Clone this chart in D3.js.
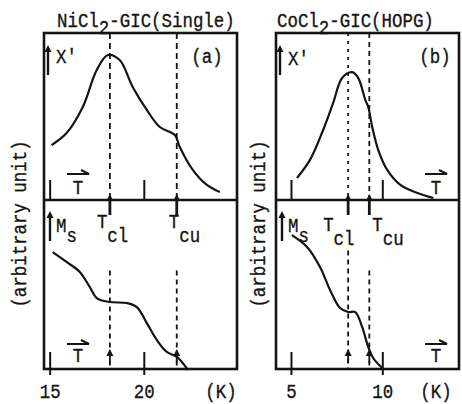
<!DOCTYPE html>
<html>
<head>
<meta charset="utf-8">
<script src="https://cdn.jsdelivr.net/npm/d3@7"></script>
<style>
  body { margin: 0; background: #fff; }
  svg text { font-family: "Liberation Mono", "Courier New", monospace; font-size: 21px; fill: #141414; stroke: #141414; stroke-width: 0.35px; }
</style>
</head>
<body>
<svg id="chart" width="462" height="404"></svg>
<script>
// NiCl2-GIC (single crystal): chi' and Ms against temperature (K)
const niChiTemp = [15.1, 15.9, 16.76, 17.5, 18.09, 18.72, 19.41, 20.16, 20.85, 21.65, 21.91, 22.6, 23.35, 24.04];
const niChi = [3.29, 4.01, 5.57, 7.78, 8.68, 8.38, 6.77, 5.39, 4.37, 3.89, 3.17, 1.80, 0.90, 0.48];
const niMsTemp = [15.16, 15.9, 16.6, 17.13, 17.5, 18.19, 19.1, 19.63, 20.16, 20.69, 21.22, 21.76, 22.34];
const niMs = [7.0, 6.41, 5.81, 4.91, 4.25, 4.01, 3.95, 3.71, 2.75, 1.74, 1.02, 0.72, -0.06];

// CoCl2-GIC (HOPG)
const coChiTemp = [5.33, 6.04, 6.76, 7.31, 7.80, 8.35, 8.68, 9.07, 9.23, 9.45, 9.78, 10.27, 10.99, 11.92, 12.8];
const coChi = [1.32, 2.40, 4.19, 5.81, 7.31, 7.66, 7.31, 5.99, 5.57, 4.37, 2.99, 1.80, 0.90, 0.42, 0.12];
const coMsTemp = [5.05, 5.88, 6.59, 7.14, 7.69, 8.13, 8.52, 8.9, 9.23, 9.5, 10.0];
const coMs = [8.02, 7.31, 6.11, 4.73, 3.65, 3.41, 3.41, 2.51, 1.32, 0.66, 0.06];

// transition temperatures Tcl, Tcu
const niTc = [18.2, 21.75];
const coTc = [8.13, 9.29];

// tick labels
const niTicks = [15, 20];
const coTicks = [5, 10];

const svg = d3.select("#chart");
const ink = "#141414";
const top0 = 33, mid = 200, bottom = 369;
const sx = 0.83; // narrow typewriter glyphs

const yTop = d3.scaleLinear().domain([0, 10]).range([mid, top0]);
const yBot = d3.scaleLinear().domain([0, 10]).range([bottom, mid + 2]);

function text(g, x, y, str, anchor) {
  return g.append("text")
    .attr("transform", `translate(${x},${y}) scale(${sx},1)`)
    .attr("text-anchor", anchor || "start")
    .text(str);
}

// text with a lowered subscript
function subText(g, x, y, main, sub, drop) {
  const t = g.append("text").attr("transform", `translate(${x},${y}) scale(${sx},1)`);
  t.append("tspan").text(main);
  t.append("tspan").attr("dy", drop).text(sub);
  return t;
}

function upArrow(g, x, y1, y2, w) {
  g.append("line").attr("x1", x).attr("x2", x).attr("y1", y1).attr("y2", y2 + 5)
    .attr("stroke", ink).attr("stroke-width", w || 2.4);
  g.append("path")
    .attr("d", `M${x - 3.5},${y2 + 7} L${x},${y2} L${x + 3.5},${y2 + 7} Z`)
    .attr("fill", ink);
}

function harpoon(g, x1, x2, y) {
  g.append("path")
    .attr("d", `M${x1},${y} L${x2},${y} L${x2 - 8},${y - 4}`)
    .attr("fill", "none").attr("stroke", ink).attr("stroke-width", 2);
}

function panel(opt) {
  const x = d3.scaleLinear().domain(opt.domain).range([opt.left, opt.right]);
  const g = svg.append("g");

  // title
  subText(g, opt.titleX, 27, opt.title[0], "2", 7)
    .append("tspan").attr("dy", -7).text(opt.title[1]);

  // frame and divider
  g.append("rect")
    .attr("x", opt.left).attr("y", top0)
    .attr("width", opt.right - opt.left).attr("height", bottom - top0)
    .attr("fill", "none").attr("stroke", ink).attr("stroke-width", 2.6);
  g.append("line")
    .attr("x1", opt.left).attr("x2", opt.right).attr("y1", mid).attr("y2", mid)
    .attr("stroke", ink).attr("stroke-width", 2.6);

  // ticks in upper panel
  const axT = g.append("g").attr("transform", `translate(0,${mid})`)
    .call(d3.axisBottom(x).tickValues(opt.ticks).tickSize(-20).tickFormat(""));
  axT.select(".domain").remove();
  axT.selectAll(".tick line").attr("stroke", ink).attr("stroke-width", 2);

  // bottom axis with labels
  const axB = g.append("g").attr("transform", `translate(0,${bottom})`)
    .call(d3.axisBottom(x).tickValues(opt.ticks).tickSize(6).tickFormat(d3.format("d")));
  axB.select(".domain").remove();
  axB.selectAll(".tick line").attr("y1", -17).attr("stroke", ink).attr("stroke-width", 2);
  axB.selectAll(".tick text")
    .attr("y", 29).attr("dy", null)
    .attr("transform", `scale(${sx},1)`);
  text(g, opt.kX, 398, "(K)", "middle");

  // y label
  g.append("text")
    .attr("transform", `translate(${opt.yLabX},224) rotate(-90) scale(${sx},1)`)
    .attr("text-anchor", "middle")
    .text("(arbitrary unit)");

  // dashed transition lines
  opt.tc.forEach((t, i) => {
    g.append("line")
      .attr("x1", x(t)).attr("x2", x(t)).attr("y1", yTop(10)).attr("y2", yTop(0))
      .attr("stroke", ink).attr("stroke-width", 1.8).attr("stroke-dasharray", opt.dash[i]);
    g.append("line")
      .attr("x1", x(t)).attr("x2", x(t)).attr("y1", yBot(opt.lowDash[i])).attr("y2", yBot(0))
      .attr("stroke", ink).attr("stroke-width", 1.8).attr("stroke-dasharray", "5,4");
    upArrow(g, x(t), mid + 15, mid - 6, 2.8);
    upArrow(g, x(t), bottom - 6, bottom - 20, 1.8);
  });

  // curves
  const line = y => d3.line()
    .x((d, i) => x(d[0]))
    .y(d => y(d[1]))
    .curve(d3.curveCatmullRom.alpha(0.5));
  g.append("path")
    .datum(d3.zip(opt.chiT, opt.chi))
    .attr("d", line(yTop))
    .attr("fill", "none").attr("stroke", ink).attr("stroke-width", 2.2);
  g.append("path")
    .datum(d3.zip(opt.msT, opt.ms))
    .attr("d", line(yBot))
    .attr("fill", "none").attr("stroke", ink).attr("stroke-width", 2.2);

  // annotations
  upArrow(g, opt.left + 4, 75, 45, 2.4);
  text(g, opt.left + 12, opt.xpY, "X'");
  text(g, opt.tagX, 63, opt.tag, "middle");

  upArrow(g, opt.left + 6, 241, 211, 2.4);
  subText(g, opt.left + 12, 232, "M", "s", 10);
  subText(g, x(opt.tc[0]) - opt.tclOff, opt.tY, "T", "cl", 14);
  subText(g, x(opt.tc[1]) + opt.tcuOff, opt.tY, "T", "cu", 14);

  harpoon(g, opt.arrowX, opt.arrowX + 22, 174);
  text(g, opt.arrowX + 11, 194, "T", "middle");
  harpoon(g, opt.arrowX, opt.arrowX + 22, 344);
  text(g, opt.arrowX + 11, 362, "T", "middle");
}

panel({
  domain: [14.7, 24.95], left: 44, right: 237, ticks: niTicks,
  title: ["NiCl", "-GIC(Single)"], titleX: 57,
  chiT: niChiTemp, chi: niChi, msT: niMsTemp, ms: niMs,
  tc: niTc, dash: ["6,4", "6,4"], lowDash: [5.9, 5.9],
  kX: 221, yLabX: 26, tagX: 207, tag: "(a)", xpY: 63,
  tclOff: 13, tcuOff: -8, tY: 228, arrowX: 67
});

panel({
  domain: [4.18, 14.2], left: 276, right: 459, ticks: coTicks,
  title: ["CoCl", "-GIC(HOPG)"], titleX: 277,
  chiT: coChiTemp, chi: coChi, msT: coMsTemp, ms: coMs,
  tc: coTc, dash: ["3,5", "5,4"], lowDash: [7.1, 5.9],
  kX: 436, yLabX: 265, tagX: 435, tag: "(b)", xpY: 65,
  tclOff: 25, tcuOff: 3, tY: 231, arrowX: 425
});
</script>
</body>
</html>
